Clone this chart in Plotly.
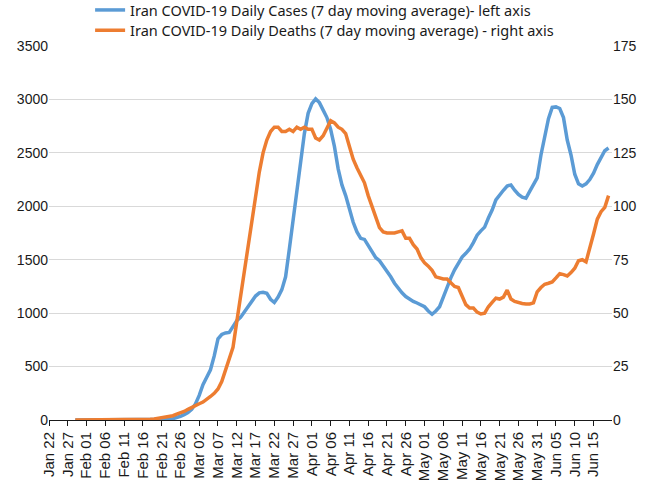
import pandas as pd
import plotly.graph_objects as go

# daily values from Jan 29 to Jun 19
dates = pd.date_range("2020-01-29", "2020-06-19", freq="D")

cases = [0] * 21 + [
    0, 1, 3, 5, 8, 12, 20, 35, 50, 70, 100, 150,
    230, 330, 400, 470, 600, 760, 800, 815, 820, 880,
    930, 960, 1010, 1070, 1110, 1160, 1190, 1195, 1185, 1130,
    1100, 1150, 1220, 1340, 1600, 1870, 2100, 2400, 2680, 2870,
    2960, 3005, 2970, 2900, 2830, 2720, 2560, 2350, 2200, 2100,
    1980, 1850, 1760, 1700, 1690, 1630, 1570, 1520, 1490, 1440,
    1400, 1340, 1280, 1230, 1190, 1155, 1130, 1110, 1095, 1080,
    1060, 1020, 990, 1020, 1060, 1150, 1245, 1330, 1405, 1470,
    1525, 1560, 1600, 1660, 1730, 1770, 1805, 1890, 1965, 2060,
    2110, 2150, 2190, 2200, 2150, 2110, 2085, 2075, 2140, 2200,
    2265, 2480, 2650, 2820, 2925, 2930, 2915, 2830, 2620, 2480,
    2300, 2210, 2190, 2210, 2250, 2310, 2390, 2450, 2520, 2545,
]

deaths = [0] * 20 + [
    0.3, 0.5, 0.8, 1, 1.2, 1.5, 2, 2.7, 3.3, 4, 5, 6, 7,
    7.6, 8.4, 9.5, 11, 12.5, 14.5, 18, 23, 28, 34,
    46, 58, 70, 82, 94, 105, 116, 125, 131, 135,
    137, 137, 135, 135, 136, 135, 137, 136, 137, 136,
    136, 132, 131, 133, 137, 140, 139, 137, 136, 134,
    128, 122, 118, 114, 111, 105, 100, 94, 90, 88,
    87.5, 87.5, 87.5, 88, 88.5, 85, 85, 82, 80, 76,
    73.5, 72, 70, 67, 66.5, 66, 66, 64, 62.5, 62,
    57.6, 54, 52.4, 52.4, 50.5, 49.6, 50, 53, 55, 57,
    56.6, 57.5, 60.8, 56.6, 55.5, 54.8, 54.5, 54.3, 54.3, 54.8,
    60, 62, 63.5, 64, 64.6, 66.5, 68.5, 68, 67.4, 69,
    71, 74.5, 75, 74, 80, 87, 94, 97.5, 99.5, 105,
]

names = ["Iran COVID-19 Daily Cases (7 day moving average)- left axis",
         "Iran COVID-19 Daily Deaths (7 day moving average) - right axis"]

fig = go.Figure()
fig.add_trace(go.Scatter(x=dates, y=cases, name=names[0], mode="lines", legend="legend",
                         line=dict(color="#5b9bd5", width=3.5)))
fig.add_trace(go.Scatter(x=dates, y=deaths, name=names[1], mode="lines", yaxis="y2", legend="legend2",
                         line=dict(color="#ed7d31", width=3.5)))

tick_font = dict(family="Liberation Sans", size=14, color="#1a1a1a")
leg = dict(x=0.073, xanchor="left", yanchor="top", orientation="v",
           font=dict(family="Noto Sans", size=14.5, color="#1a1a1a"),
           itemwidth=30, bgcolor="rgba(0,0,0,0)")
fig.update_layout(
    width=650, height=500,
    margin=dict(l=49, r=38, t=46, b=80, autoexpand=False),
    plot_bgcolor="white", paper_bgcolor="white",
    showlegend=True,
    legend=dict(leg, y=1.139),
    legend2=dict(leg, y=1.085),
    xaxis=dict(type="date", range=["2020-01-22", "2020-06-19 22:00"],
               tick0="2020-01-22", dtick=5 * 86400000, tickformat="%b %d",
               tickangle=-90, tickfont=dict(family="Liberation Sans", size=15, color="#1a1a1a"),
               showline=True, linecolor="#1a1a1a", linewidth=1,
               ticks="outside", ticklen=5, tickcolor="#1a1a1a", showgrid=False, zeroline=False),
    yaxis=dict(range=[0, 3500], dtick=500, tickfont=tick_font, gridcolor="#d9d9d9",
               gridwidth=1, zeroline=False, showline=False, ticks=""),
    yaxis2=dict(range=[0, 175], dtick=25, tickfont=tick_font, overlaying="y", side="right",
                showgrid=False, zeroline=False, showline=False, ticks=""),
)

# the page body has a default 8px margin; drop it so the figure sits at the window corner
fig.write_html("out.html", config=dict(displayModeBar=False),
               post_script="document.body.style.margin = '0';")
